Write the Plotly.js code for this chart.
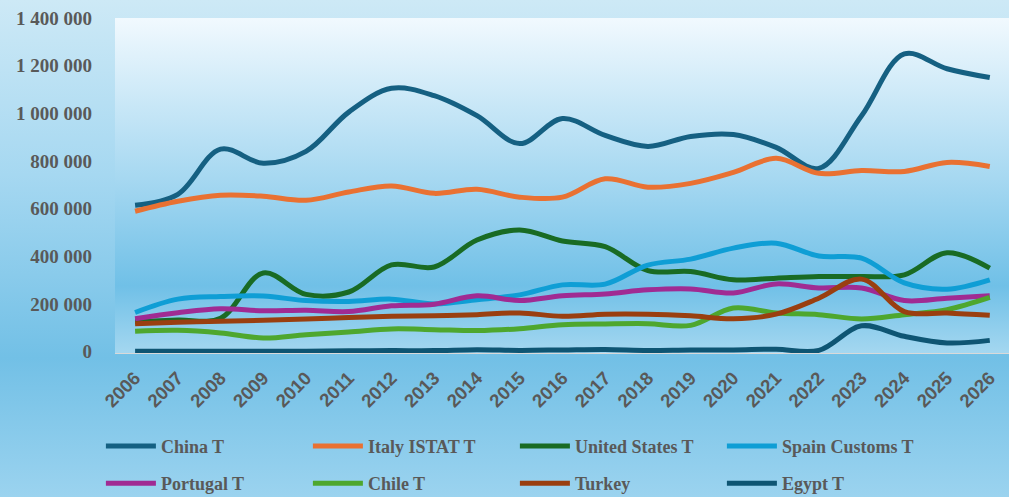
<!DOCTYPE html>
<html>
<head>
<meta charset="utf-8">
<script src="https://cdn.plot.ly/plotly-3.0.1.min.js"></script>
<style>
  html, body { margin: 0; padding: 0; }
  body { width: 1009px; height: 497px; overflow: hidden;
    background: linear-gradient(to bottom, #cde9f6 0%, #a6d8f1 35%, #72c0e6 72%, #9bd3ef 100%); }
  #chart { width: 1009px; height: 497px; }
</style>
</head>
<body>
<div id="chart"></div>
<script>
const years = [2006,2007,2008,2009,2010,2011,2012,2013,2014,2015,2016,2017,2018,2019,2020,2021,2022,2023,2024,2025,2026];

const china    = [614000,660000,850000,790000,840000,1005000,1105000,1074000,990000,873000,978000,907000,861000,903000,911000,857000,769000,990000,1249000,1187000,1150000];
const italy    = [589000,631000,656000,652000,635000,670000,695000,664000,681000,648000,648000,725000,690000,706000,752000,811000,748000,760000,756000,794000,777000];
const usa      = [125000,132000,140000,330000,240000,250000,364000,355000,468000,510000,464000,440000,340000,336000,301000,308000,315000,315000,322000,415000,350000];
const spain    = [164000,220000,231000,233000,214000,210000,220000,200000,217000,238000,280000,283000,363000,388000,434000,455000,401000,392000,288000,262000,301000];
const portugal = [138000,163000,180000,171000,173000,168000,192000,199000,234000,214000,234000,242000,259000,263000,246000,284000,267000,267000,214000,224000,234000];
const chile    = [85000,89000,78000,57000,71000,82000,95000,92000,88000,96000,113000,116000,117000,110000,183000,162000,155000,137000,155000,176000,227000];
const turkey   = [117000,123000,127000,131000,137000,143000,148000,150000,155000,162000,148000,157000,157000,150000,138000,157000,224000,304000,168000,162000,152000];
const egypt    = [1000,1000,1000,1000,1500,3000,4000,4000,8000,5000,7000,9000,5000,7000,7000,10000,5000,108000,64000,36000,47000];

const seriesNames = ["China T","Italy ISTAT T","United States T","Spain Customs T","Portugal T","Chile T","Turkey","Egypt T"];
const seriesData = [china, italy, usa, spain, portugal, chile, turkey, egypt];
const seriesColors = ["#156082","#E97132","#196B24","#0F9ED5","#A02B93","#4EA72E","#9A3F10","#0E5573"];

const traces = seriesNames.map((n, i) => ({
  type: 'scatter', mode: 'lines', name: n,
  x: years, y: seriesData[i],
  legend: i < 4 ? 'legend' : 'legend2',
  line: { color: seriesColors[i], width: 5, shape: 'spline', smoothing: 1 },
  hoverinfo: 'x+y+name'
}));

const svg = "<svg xmlns='http://www.w3.org/2000/svg' width='100' height='100' viewBox='0 0 100 100' preserveAspectRatio='none'>" +
  "<defs><linearGradient id='g' x1='0' y1='0' x2='0' y2='1'>" +
  "<stop offset='0' stop-color='#f1f9fe'/>" +
  "<stop offset='0.48' stop-color='#a6d8f1'/>" +
  "<stop offset='0.80' stop-color='#70c0e7'/>" +
  "<stop offset='1' stop-color='#a4d7f0'/>" +
  "</linearGradient></defs><rect x='0' y='0' width='100' height='100' fill='url(#g)'/></svg>";
const bgSrc = 'data:image/svg+xml;charset=utf-8,' + encodeURIComponent(svg);

const legendFont = { family: 'Liberation Serif, Times New Roman, serif', size: 18, weight: 'bold', color: '#595959' };
const legendBase = {
  orientation: 'h', xref: 'container', yref: 'container',
  x: 0.1, xanchor: 'left', yanchor: 'top',
  entrywidth: 142, entrywidthmode: 'pixels', itemwidth: 50,
  bgcolor: 'rgba(0,0,0,0)', font: legendFont
};

const layout = {
  width: 1009, height: 497,
  paper_bgcolor: 'rgba(0,0,0,0)',
  plot_bgcolor: 'rgba(0,0,0,0)',
  separators: '. ',
  margin: { l: 115, r: 0, t: 18, b: 144, pad: 0 },
  showlegend: true,
  images: [{ source: bgSrc, xref: 'paper', yref: 'paper', x: 0, y: 1, sizex: 1, sizey: 1,
             sizing: 'stretch', xanchor: 'left', yanchor: 'top', layer: 'below' }],
  xaxis: {
    type: 'linear', range: [2005.53, 2026.45],
    tickmode: 'array', tickvals: years, ticktext: years.map(String),
    tickangle: -45, showgrid: false, zeroline: false,
    showline: true, linecolor: '#d9d9d9', linewidth: 1,
    ticks: '', ticklabelstandoff: 6,
    tickfont: { family: 'Liberation Sans, Arial, sans-serif', size: 18.5, weight: 'bold', color: '#595959' }
  },
  yaxis: {
    range: [-6000, 1400000], tickmode: 'linear', tick0: 0, dtick: 200000,
    tickformat: ',d', showgrid: false, zeroline: false, showline: false,
    ticks: '', ticklabelstandoff: 22,
    tickfont: { family: 'Liberation Serif, Times New Roman, serif', size: 19, weight: 'bold', color: '#595959' }
  },
  legend: Object.assign({}, legendBase, { y: 0.139 }),
  legend2: Object.assign({}, legendBase, { y: 0.0644 })
};

Plotly.newPlot('chart', traces, layout, { displayModeBar: false, responsive: false });
</script>
</body>
</html>
